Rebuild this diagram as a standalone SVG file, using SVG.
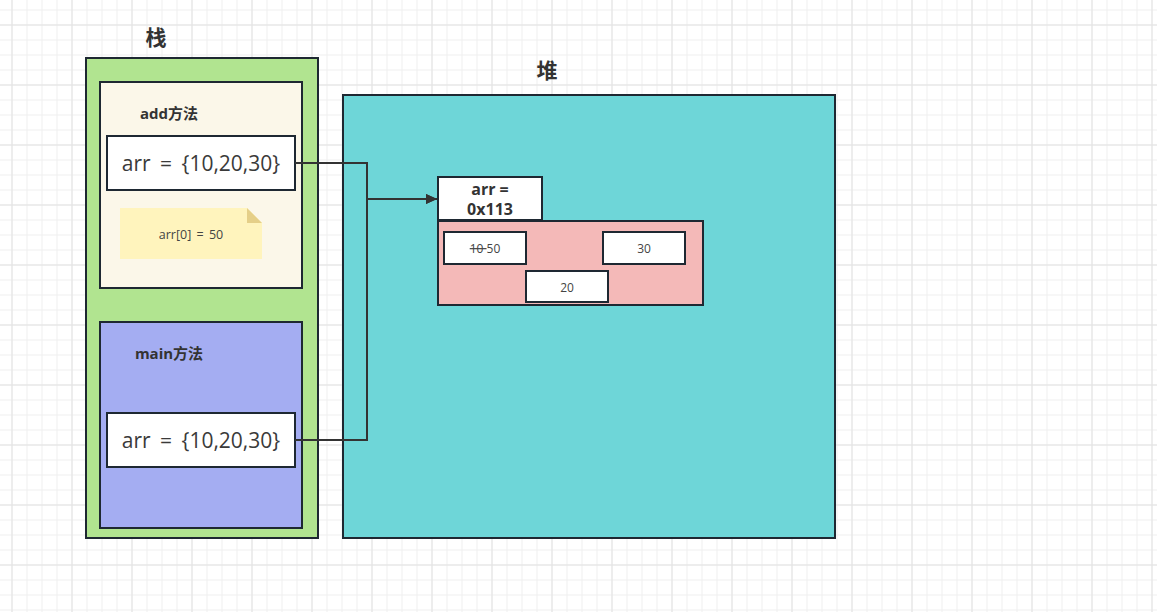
<svg xmlns="http://www.w3.org/2000/svg" width="1157" height="612" viewBox="0 0 1157 612">
<defs>
<pattern id="minor" width="15" height="15" patternUnits="userSpaceOnUse" x="11.5" y="9.5">
<path d="M0 0.5H15M0.5 0V15" fill="none" stroke="#efefef" stroke-width="1"/>
</pattern>
<pattern id="major" width="60" height="60" patternUnits="userSpaceOnUse" x="11.5" y="24.5">
<path d="M0 0.5H60M0.5 0V60" fill="none" stroke="#e3e3e3" stroke-width="1"/>
</pattern>
<marker id="arrow" markerWidth="12" markerHeight="12" refX="11" refY="6" orient="auto" markerUnits="userSpaceOnUse">
<path d="M0 1L11 6L0 11Z" fill="#333"/>
</marker>
</defs>
<style>
.box{stroke:#1e2832;stroke-width:2}
.t{font-family:"Open Sans","Noto Sans","Noto Sans CJK SC",sans-serif;fill:#333;text-anchor:middle;dominant-baseline:central}
.title{font-size:21px;font-weight:bold}
.lbl{font-size:15px;font-weight:bold}
.ref{font-size:16px;font-weight:bold}
.big{font-size:21px;fill:#3a3a3a;word-spacing:4px}
.sm{font-size:12px;fill:#444}
.note{font-size:12.5px;fill:#444;word-spacing:2px}
.conn{fill:none;stroke:#333;stroke-width:2}
</style>
<rect width="1157" height="612" fill="#fff"/>
<rect width="1157" height="612" fill="url(#minor)"/>
<rect width="1157" height="612" fill="url(#major)"/>

<g id="stack">
<rect class="box" x="86" y="58" width="232" height="480" fill="#b1e490"/>
<text class="t title" x="156" y="37">栈</text>
</g>
<g id="add">
<rect class="box" x="100" y="82" width="202" height="206" fill="#fbf7e9"/>
<text class="t lbl" x="169" y="113">add方法</text>
</g>
<g id="add-arr">
<rect class="box" x="107" y="136" width="188" height="54" fill="#fff"/>
<text class="t big" x="201" y="163">arr = {10,20,30}</text>
</g>
<g id="note">
<path d="M120 208H247L262 223V259H120Z" fill="#fff4bd"/>
<path d="M247 208L262 223H247Z" fill="#e5cf88"/>
<text class="t note" x="191" y="234">arr[0] = 50</text>
</g>
<g id="main">
<rect class="box" x="100" y="322" width="202" height="206" fill="#a4adf2"/>
<text class="t lbl" x="169" y="353">main方法</text>
</g>
<g id="main-arr">
<rect class="box" x="107" y="413" width="188" height="54" fill="#fff"/>
<text class="t big" x="201" y="440">arr = {10,20,30}</text>
</g>
<g id="heap">
<rect class="box" x="343" y="95" width="492" height="443" fill="#6ed6d8"/>
<text class="t title" x="547" y="70">堆</text>
</g>
<g id="arr-ref">
<rect class="box" x="438" y="177" width="104" height="43" fill="#fff"/>
<text class="t ref" x="490" y="189">arr =</text>
<text class="t ref" x="490" y="209">0x113</text>
</g>
<g id="array">
<rect class="box" x="438" y="221" width="265" height="84" fill="#f4b9b8"/>
</g>
<g id="el0">
<rect class="box" x="444" y="232" width="82" height="32" fill="#fff"/>
<text class="t sm" x="485" y="248"><tspan text-decoration="line-through">10 </tspan>50</text>
</g>
<g id="el2">
<rect class="box" x="603" y="232" width="82" height="32" fill="#fff"/>
<text class="t sm" x="644" y="248">30</text>
</g>
<g id="el1">
<rect class="box" x="526" y="271" width="82" height="31" fill="#fff"/>
<text class="t sm" x="567" y="287">20</text>
</g>
<g id="connectors">
<path class="conn" d="M295 163H367V199H437" marker-end="url(#arrow)"/>
<path class="conn" d="M295 440H367V199H437" stroke-width="2.5" marker-end="url(#arrow)"/>
</g>
</svg>
